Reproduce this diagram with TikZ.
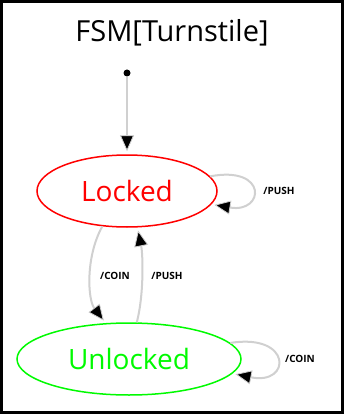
\documentclass[tikz,border=0pt]{standalone}
\usepackage{fontspec}
\setmainfont{Open Sans}
\usetikzlibrary{shapes.geometric,arrows.meta}
\definecolor{edgegray}{RGB}{208,208,208}
\definecolor{lockred}{RGB}{255,0,0}
\definecolor{unlockgreen}{RGB}{0,250,0}
\tikzset{
  state/.style={ellipse, draw, line width=1.5pt, inner sep=0pt, font=\fontsize{28}{32}\selectfont},
  edge/.style={draw=edgegray, line width=2pt, shorten >=3pt, -{Triangle[length=16pt,width=14pt,fill=black,line width=0.8pt]}},
  lbl/.style={font=\fontsize{10}{11}\selectfont\bfseries, inner sep=0pt}
}
\begin{document}
\begin{tikzpicture}[x=1pt,y=-1pt]
\useasboundingbox (0,0) rectangle (344,414);
\draw[line width=3pt] (1.5,1.5) rectangle (342.5,412.5);
\node[font=\fontsize{29}{32}\selectfont] (title) at (172,33) {FSM[Turnstile]};
\node[circle, fill=black, inner sep=0pt, minimum size=7pt] (start) at (127,73) {};
\node[state, draw=lockred, text=lockred, minimum width=180pt, minimum height=72pt] (L) at (127,191) {Locked};
\node[state, draw=unlockgreen, text=unlockgreen, minimum width=224pt, minimum height=72pt] (U) at (129,359) {Unlocked};
\draw[edge] (start) -- (L.north);
\draw[edge] (L.10) .. controls +(58,-11) and +(53,9) .. (L.-9);
\draw[edge] (L.235) .. controls (85,258) and (88,300) .. (U.123);
\draw[edge] (U.78) .. controls (144,295) and (143,255) .. (L.-74);
\draw[edge] (U.9) .. controls +(62,-10) and +(59,12) .. (U.-8);
\node[lbl] (l1) at (279,191) {/PUSH};
\node[lbl] (l2) at (115,276) {/COIN};
\node[lbl] (l3) at (167,276) {/PUSH};
\node[lbl] (l4) at (300,359) {/COIN};
\end{tikzpicture}
\end{document}
